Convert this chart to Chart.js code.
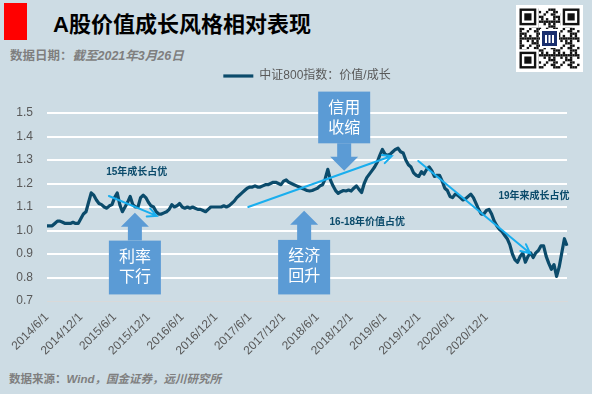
<!DOCTYPE html>
<html><head><meta charset="utf-8">
<script src="https://cdn.jsdelivr.net/npm/chart.js@4.4.1/dist/chart.umd.min.js"></script>
<style>
html,body{margin:0;padding:0;background:#cddce4;}
#wrap{position:relative;width:592px;height:394px;overflow:hidden;background:#cddce4;font-family:"Liberation Sans","Noto Sans CJK SC",sans-serif;}
#c{position:absolute;left:0;top:0;}
.t{position:absolute;white-space:nowrap;line-height:1;}
</style></head><body>
<div id="wrap">
<div style="position:absolute;left:4px;top:3px;width:23px;height:37px;background:#ff0000"></div>
<div class="t" style="left:53px;top:14px;font-size:22px;font-weight:bold;color:#000;">A股价值成长风格相对表现</div>
<div class="t" style="left:10px;top:50px;font-size:12.5px;font-weight:bold;color:#7f7f7f;">数据日期：<i>截至2021年3月26日</i></div>
<div class="t" style="left:9px;top:374px;font-size:11.5px;font-weight:bold;color:#7f7f7f;">数据来源：<i>Wind，国金证券，远川研究所</i></div>
<canvas id="qr" width="67" height="67" style="position:absolute;left:516px;top:5px;"></canvas>
<canvas id="c" width="592" height="394"></canvas>
</div>
<script>
// ---- data ----
const seriesLabel = '中证800指数：价值/成长';
const tickLabels = ['2014/6/1','2014/12/1','2015/6/1','2015/12/1','2016/6/1','2016/12/1','2017/6/1','2017/12/1','2018/6/1','2018/12/1','2019/6/1','2019/12/1','2020/6/1','2020/12/1'];
const tickIndex = [0,13,26,39,52,65,78,91,104,117,130,143,156,169];
const yTicks = [0.7,0.8,0.9,1.0,1.1,1.2,1.3,1.4,1.5];
const ratioValues = [
1.02,1.02,1.02,1.03,1.04,1.04,1.035,1.03,1.03,1.03,
1.035,1.03,1.03,1.05,1.07,1.08,1.12,1.16,1.15,1.13,
1.115,1.11,1.10,1.095,1.105,1.11,1.14,1.16,1.11,1.08,
1.10,1.12,1.145,1.11,1.10,1.10,1.14,1.15,1.14,1.12,
1.105,1.10,1.08,1.07,1.07,1.075,1.08,1.09,1.11,1.10,
1.105,1.115,1.10,1.095,1.10,1.095,1.10,1.095,1.09,1.09,
1.085,1.08,1.09,1.10,1.10,1.10,1.10,1.10,1.105,1.10,
1.105,1.115,1.125,1.14,1.15,1.16,1.17,1.18,1.185,1.185,
1.19,1.185,1.185,1.19,1.195,1.195,1.20,1.205,1.205,1.20,
1.195,1.21,1.215,1.205,1.20,1.195,1.19,1.185,1.18,1.175,
1.17,1.168,1.17,1.175,1.18,1.19,1.195,1.22,1.26,1.215,
1.19,1.17,1.158,1.165,1.17,1.168,1.172,1.168,1.18,1.19,
1.175,1.162,1.20,1.225,1.24,1.255,1.27,1.29,1.32,1.345,
1.325,1.32,1.325,1.335,1.345,1.35,1.335,1.33,1.30,1.28,
1.27,1.245,1.235,1.23,1.25,1.24,1.26,1.27,1.255,1.23,
1.235,1.235,1.21,1.18,1.17,1.145,1.14,1.155,1.15,1.14,
1.13,1.135,1.145,1.155,1.14,1.115,1.09,1.07,1.07,1.085,
1.09,1.07,1.04,1.02,1.005,0.995,0.98,0.965,0.94,0.90,
0.875,0.865,0.89,0.905,0.865,0.89,0.905,0.885,0.905,0.915,
0.935,0.935,0.89,0.86,0.835,0.855,0.805,0.845,0.905,0.965,
0.935];

// ---- annotations (in data coordinates: x = point index, y = ratio) ----
const callouts = [
  {lines:['利率','下行'], x:33.8, boxTop:0.957, boxBottom:0.728, tip:1.076, dir:'up'},
  {lines:['经济','回升'], x:98.9, boxTop:0.960, boxBottom:0.728, tip:1.084, dir:'up'},
  {lines:['信用','收缩'], x:114.3, boxTop:1.591, boxBottom:1.371, tip:1.254, dir:'down'}
];
const trendArrows = [
  {from:[23.8,1.147], to:[42.2,1.062]},
  {from:[77.4,1.100], to:[132.6,1.317]},
  {from:[142.8,1.296], to:[185.8,0.903]}
];
const notes = [
  {text:'15年成长占优', x:34.5, y:1.246},
  {text:'16-18年价值占优', x:123.2, y:1.037},
  {text:'19年来成长占优', x:187.3, y:1.144}
];

// QR decoration
(function(){
  const q = document.getElementById('qr').getContext('2d');
  q.fillStyle='#fff'; q.fillRect(0,0,67,67);
  const n=25, s=2.4, o=3.5;
  q.fillStyle='#111';
  for(let r=0;r<n;r++)for(let c=0;c<n;c++){
    if(((r*7+c*13+r*c*3)%7)<3) q.fillRect(o+c*s,o+r*s,s,s);
  }
  function finder(x,y){q.fillStyle='#fff';q.fillRect(o+x*s-s,o+y*s-s,9*s,9*s);q.fillStyle='#111';q.fillRect(o+x*s,o+y*s,7*s,7*s);q.fillStyle='#fff';q.fillRect(o+(x+1)*s,o+(y+1)*s,5*s,5*s);q.fillStyle='#111';q.fillRect(o+(x+2)*s,o+(y+2)*s,3*s,3*s);}
  finder(0,0);finder(18,0);finder(0,18);
  q.fillStyle='#fff';q.fillRect(24,24,19,19);
  q.fillStyle='#1a2f6e';q.fillRect(26,26,15,15);
  q.fillStyle='#fff';q.fillRect(29,30,2,8);q.fillRect(32.5,30,2,8);q.fillRect(36,30,2,8);
})();

const FONT = "'Liberation Sans','Noto Sans CJK SC',sans-serif";
const annoPlugin = {
  id:'anno',
  afterDraw(chart){
    const ctx = chart.ctx, xs = chart.scales.x, ys = chart.scales.y;
    ctx.save();
    callouts.forEach(c=>{
      const cx = xs.getPixelForValue(c.x);
      const t = ys.getPixelForValue(c.boxTop), b = ys.getPixelForValue(c.boxBottom);
      const tip = ys.getPixelForValue(c.tip);
      const bw=52, hw=14, sw=7, hl=14;
      ctx.fillStyle='#5b9bd5';
      ctx.fillRect(cx-bw/2,t,bw,b-t);
      ctx.beginPath();
      if(c.dir==='up'){
        ctx.moveTo(cx-sw,t); ctx.lineTo(cx-sw,tip+hl); ctx.lineTo(cx-hw,tip+hl); ctx.lineTo(cx,tip);
        ctx.lineTo(cx+hw,tip+hl); ctx.lineTo(cx+sw,tip+hl); ctx.lineTo(cx+sw,t); ctx.closePath();
      } else {
        ctx.moveTo(cx-sw,b); ctx.lineTo(cx-sw,tip-hl); ctx.lineTo(cx-hw,tip-hl); ctx.lineTo(cx,tip);
        ctx.lineTo(cx+hw,tip-hl); ctx.lineTo(cx+sw,tip-hl); ctx.lineTo(cx+sw,b); ctx.closePath();
      }
      ctx.fill();
      ctx.fillStyle='#fff'; ctx.font="16px 'Noto Sans CJK SC',sans-serif";
      ctx.textAlign='center'; ctx.textBaseline='middle';
      c.lines.forEach((ln,k)=>ctx.fillText(ln,cx,t+15+k*20));
    });
    ctx.strokeStyle='#19aeee'; ctx.lineWidth=2; ctx.lineCap='round';
    trendArrows.forEach(a=>{
      const x1=xs.getPixelForValue(a.from[0]), y1=ys.getPixelForValue(a.from[1]);
      const x2=xs.getPixelForValue(a.to[0]), y2=ys.getPixelForValue(a.to[1]);
      const ang=Math.atan2(y2-y1,x2-x1), L=10, sp=0.45;
      ctx.beginPath(); ctx.moveTo(x1,y1); ctx.lineTo(x2,y2);
      ctx.moveTo(x2-L*Math.cos(ang-sp), y2-L*Math.sin(ang-sp)); ctx.lineTo(x2,y2);
      ctx.lineTo(x2-L*Math.cos(ang+sp), y2-L*Math.sin(ang+sp));
      ctx.stroke();
    });
    ctx.fillStyle='#0b4b6b'; ctx.font="bold 10px "+FONT; ctx.textAlign='center'; ctx.textBaseline='middle';
    notes.forEach(n=>ctx.fillText(n.text, xs.getPixelForValue(n.x), ys.getPixelForValue(n.y)));
    ctx.restore();
  }
};

new Chart(document.getElementById('c'), {
  type:'line',
  data:{datasets:[{
    label: seriesLabel,
    data: ratioValues.map((v,i)=>({x:i,y:v})),
    borderColor:'#0b4b6b', backgroundColor:'#0b4b6b',
    borderWidth:3.2, pointRadius:0, tension:0, borderJoinStyle:'round'
  }]},
  options:{
    responsive:false, animation:false, devicePixelRatio:1,
    layout:{padding:{left:0,right:25,top:60,bottom:0}},
    plugins:{
      legend:{display:true, position:'top', fullSize:false,
        labels:{usePointStyle:true, pointStyle:'line', pointStyleWidth:30, padding:10,
          color:'#595959', font:{size:12, family:FONT}}},
      tooltip:{enabled:false}
    },
    scales:{
      gap:{type:'linear', position:'top', display:true, grid:{display:false}, border:{display:false},
        ticks:{display:false}, afterFit(s){s.height=21;}},
      x:{type:'linear', min:0, max:ratioValues.length-1,
        grid:{display:false, drawTicks:false},
        border:{display:true, color:'#d9d9d9', width:1},
        afterBuildTicks(s){ s.ticks = tickIndex.map(v=>({value:v})); },
        ticks:{autoSkip:false, minRotation:45, maxRotation:45, padding:9, color:'#595959',
          font:{size:12, family:FONT},
          callback(v){ const k = tickIndex.indexOf(v); return k>=0 ? tickLabels[k] : ''; }},
        afterFit(s){s.height=93;}
      },
      y:{type:'linear', min:0.7, max:1.5,
        afterBuildTicks(s){ s.ticks = yTicks.map(v=>({value:v})); },
        grid:{drawTicks:false, lineWidth:2,
          color:(c)=> (c.tick && c.tick.value<0.75) ? 'rgba(0,0,0,0)' : '#ffffff'},
        border:{display:false},
        ticks:{padding:14, color:'#595959', font:{size:12, family:FONT},
          callback(v){ return Number(v).toFixed(1); }},
        afterFit(s){s.width=47;}
      }
    }
  },
  plugins:[annoPlugin]
});
</script>
</body></html>
